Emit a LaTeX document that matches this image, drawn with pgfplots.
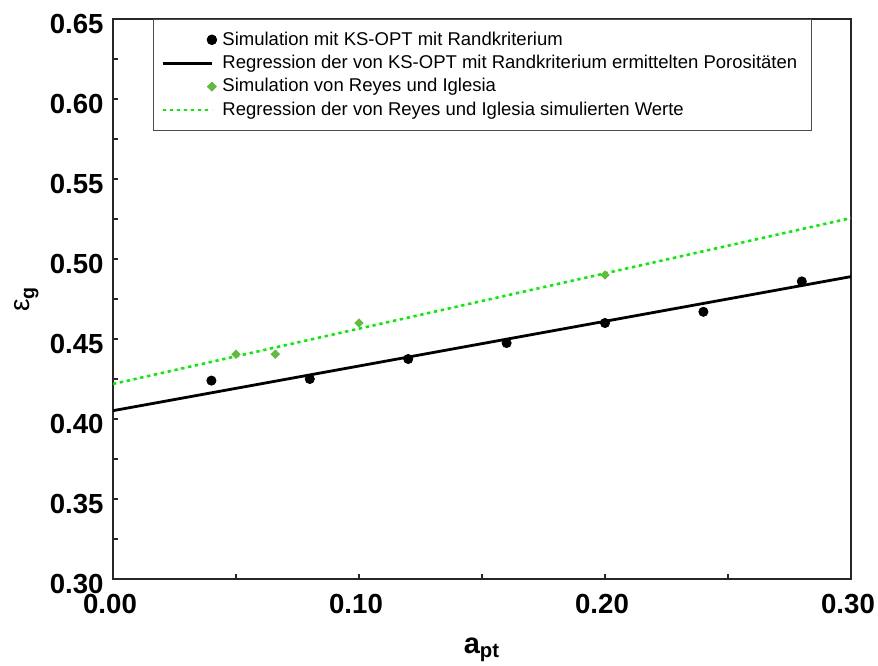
\documentclass[border=0pt]{standalone}
\usepackage{fontspec}
\setmainfont{Liberation Sans}
\usepackage{pgfplots}
\pgfplotsset{compat=1.18}
\definecolor{ksblack}{rgb}{0,0,0}
\definecolor{regreen}{RGB}{98,186,62}
\definecolor{linegreen}{RGB}{0,240,0}
\pgfplotsset{
  markleg/.style={legend image code/.code={\coordinate (legA) at (0pt,0pt); \path[##1, draw=none, fill=none] plot[only marks] coordinates {(24.5pt,0pt)}; \draw[##1] plot[only marks] coordinates {(24.5pt,0pt)};}},
  lineleg/.style={legend image code/.code={\draw[##1] (0pt,0pt) -- (24.5pt,0pt);}},
}
\begin{document}
\begin{tikzpicture}
\path[use as bounding box] (-56.5pt,-43pt) rectangle (382.5pt,289.5pt);
\begin{axis}[
  at={(0,0)}, anchor=south west,
  scale only axis,
  width=369pt, height=280pt,
  xmin=0, xmax=0.30, ymin=0.30, ymax=0.65,
  xtick={0,0.1,0.2,0.3}, ytick={0.30,0.35,0.40,0.45,0.50,0.55,0.60,0.65},
  minor x tick num=1, minor y tick num=1,
  tick pos=left, tick align=inside,
  major tick length=2.6pt, minor tick length=2.6pt,
  axis line style={black!85, line width=0.7pt},
  every tick/.style={black!85, line width=0.6pt},
  /pgf/number format/.cd, fixed, fixed zerofill, precision=2, assume math mode=true, /pgfplots/.cd,
  tick label style={font=\bfseries\fontsize{13.8}{13.8}\selectfont},
  xticklabel style={anchor=base, inner sep=0pt, yshift=-17.3pt, xshift=-1.5pt},
  yticklabel style={anchor=base east, inner sep=0pt, xshift=-4.5pt, yshift=-7pt},
  xlabel={\bfseries a\textsubscript{pt}},
  every axis x label/.style={at={(axis description cs:0.5,0)}, anchor=base, yshift=-37pt, font=\fontsize{14.5}{14.5}\selectfont},
  ylabel={\fontsize{14}{14}\selectfont ε\textsubscript{\bfseries g}},
  every axis y label/.style={at={(axis description cs:-0.117,0.5)}, rotate=90, anchor=center},
  legend cell align=left,
  legend style={at={(rel axis cs:0.0542,1)}, anchor=north west,
    draw=black!70, line width=0.5pt,
    font=\fontsize{9.25}{9.25}\selectfont,
    inner xsep=4pt, inner ysep=4.3pt, row sep=0pt,
    nodes={text height=7.6pt, text depth=2.4pt, inner ysep=0.85pt, inner xsep=3pt}},
]
\addplot[only marks, mark=*, mark size=2.3pt, ksblack, markleg]
  coordinates {(0.04,0.424)(0.08,0.425)(0.12,0.4375)(0.16,0.4475)(0.20,0.460)(0.24,0.467)(0.28,0.486)};
\addlegendentry{Simulation mit KS-OPT mit Randkriterium}
\addplot[black, line width=1.4pt, no marks, lineleg]
  coordinates {(0,0.4052)(0.30,0.489)};
\addlegendentry{Regression der von KS-OPT mit Randkriterium ermittelten Porositäten}
\addplot[only marks, mark=square*, mark size=1.45pt, mark options={rotate=45}, regreen, markleg]
  coordinates {(0.05,0.4405)(0.066,0.4405)(0.10,0.460)(0.20,0.490)};
\addlegendentry{Simulation von Reyes und Iglesia}
\addplot[linegreen, line width=1.3pt, dash pattern=on 1.6pt off 1.9pt, no marks, lineleg]
  coordinates {(0,0.4219)(0.30,0.5256)};
\addlegendentry{Regression der von Reyes und Iglesia simulierten Werte}
\end{axis}
\end{tikzpicture}
\end{document}
